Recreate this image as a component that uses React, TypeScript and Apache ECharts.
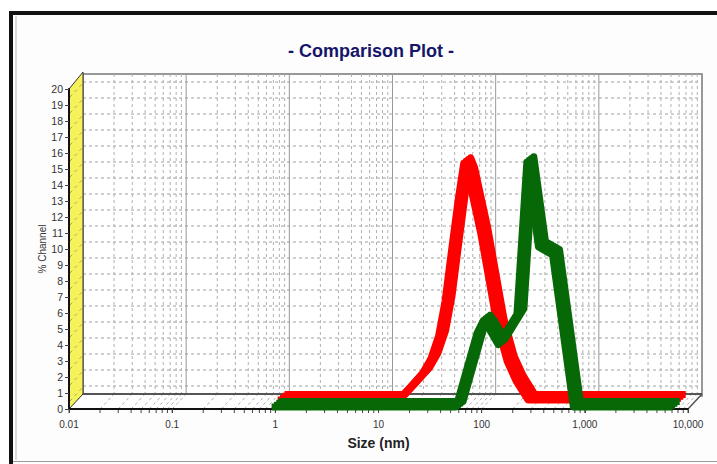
import React, { useEffect, useRef } from "react";
import * as echarts from "echarts";

// ---- data ----
const SIZES_RED = [0.88, 13, 18, 22.5, 27, 32, 37, 43, 49.5, 56, 61, 82, 118, 148, 180, 235, 6800];
const PCT_RED = [0, 0, 1.0, 1.7, 2.6, 4.0, 6.2, 9.5, 12.5, 14.8, 14.2, 10.4, 4.7, 2.4, 1.2, 0, 0];
const SIZES_GREEN = [0.88, 54, 86, 99, 110, 138, 210, 262, 340, 465, 740, 6800];
const PCT_GREEN = [0, 0, 4.6, 5.4, 5.0, 3.9, 5.8, 15.3, 10.0, 9.5, 0, 0];
const X_TICK_VALUES = [0.01, 0.1, 1, 10, 100, 1000, 10000];
const X_TICK_LABELS = ["0.01", "0.1", "1", "10", "100", "1,000", "10,000"];
const Y_MAX = 20;

// ---- layout ----
const FX0 = 69; // front x of 0.01
const FW = 619; // front axis width
const FY0 = 409; // front y of 0
const FH = 320; // front height (0..20)
const DDX = 14; // depth offset
const DDY = -15;

const fx = (v: number) => FX0 + ((Math.log10(v) + 2) / 6) * FW;

function buildGraphics() {
  const els: any[] = [];
  // outer panel
  els.push({ type: "rect", z: -21, shape: { x: 11, y: 13, width: 706, height: 448 }, style: { fill: "#fdfdfe" } });
  els.push({ type: "line", z: -20, shape: { x1: 9, y1: 13, x2: 717, y2: 13 }, style: { stroke: "#111", lineWidth: 4 } });
  els.push({ type: "line", z: -20, shape: { x1: 11, y1: 11, x2: 11, y2: 464 }, style: { stroke: "#111", lineWidth: 4 } });
  els.push({ type: "line", z: -20, shape: { x1: 13, y1: 461.5, x2: 717, y2: 461.5 }, style: { stroke: "#999", lineWidth: 1 } });
  els.push({ type: "line", z: -19, shape: { x1: 16, y1: 16, x2: 16, y2: 460 }, style: { stroke: "#bbb", lineWidth: 1 } });
  // back wall
  els.push({ type: "rect", z: -10, shape: { x: FX0 + DDX, y: FY0 - FH + DDY, width: FW, height: FH + 2 }, style: { fill: "#ffffff", stroke: "#777", lineWidth: 1.5 } });
  // back wall horizontal dashed
  for (let k = 0; k < 20; k++) {
    const y = FY0 + DDY - 8 - 16 * k;
    els.push({ type: "line", z: -9, shape: { x1: FX0 + DDX, y1: y, x2: FX0 + DDX + FW, y2: y }, style: { stroke: "#a0a0a0", lineWidth: 1, lineDash: [3, 3] } });
  }
  // back wall verticals
  const minors: number[] = [];
  for (let e = -2; e < 4; e++) {
    for (let m = 2; m <= 9; m++) minors.push(m * Math.pow(10, e));
  }
  minors.forEach((v) => {
    const x = fx(v) + DDX;
    els.push({ type: "line", z: -9, shape: { x1: x, y1: FY0 - FH + DDY, x2: x, y2: FY0 + DDY }, style: { stroke: "#b0b0b0", lineWidth: 1, lineDash: [3, 3] } });
  });
  X_TICK_VALUES.slice(1, -1).forEach((v) => {
    const x = fx(v) + DDX;
    els.push({ type: "line", z: -8, shape: { x1: x, y1: FY0 - FH + DDY, x2: x, y2: FY0 + DDY }, style: { stroke: "#999", lineWidth: 1 } });
  });
  // floor
  els.push({ type: "polygon", z: -7, shape: { points: [[FX0, FY0], [FX0 + FW, FY0], [FX0 + FW + DDX, FY0 + DDY], [FX0 + DDX, FY0 + DDY]] }, style: { fill: "#ffffff" } });
  [...minors, ...X_TICK_VALUES].forEach((v) => {
    const x = fx(v);
    els.push({ type: "line", z: -6, shape: { x1: x, y1: FY0, x2: x + DDX, y2: FY0 + DDY }, style: { stroke: "#aaa", lineWidth: 1, lineDash: [3, 3] } });
    els.push({ type: "line", z: -6, shape: { x1: x, y1: FY0, x2: x, y2: FY0 + 4 }, style: { stroke: "#444", lineWidth: 1 } });
  });
  els.push({ type: "line", z: -5, shape: { x1: FX0 + DDX, y1: FY0 + DDY, x2: FX0 + DDX + FW, y2: FY0 + DDY }, style: { stroke: "#555", lineWidth: 2 } });
  els.push({ type: "line", z: -5, shape: { x1: FX0 + FW, y1: FY0, x2: FX0 + FW + DDX, y2: FY0 + DDY }, style: { stroke: "#555", lineWidth: 1.5 } });
  // left wall
  els.push({ type: "polygon", z: -4, shape: { points: [[FX0, FY0], [FX0, FY0 - FH], [FX0 + DDX, FY0 - FH + DDY - 2], [FX0 + DDX, FY0 + DDY]] }, style: { fill: "#f6f25c", stroke: "#333", lineWidth: 1 } });
  for (let k = 0; k < 20; k++) {
    const y = FY0 - 8 - 16 * k;
    els.push({ type: "line", z: -3, shape: { x1: FX0 + 1, y1: y, x2: FX0 + DDX - 1, y2: y + DDY + 2 }, style: { stroke: "#a8a45a", lineWidth: 1, lineDash: [3, 4] } });
  }
  // title
  els.push({ type: "text", z: 10, x: 371, y: 51, style: { text: "- Comparison Plot -", font: "bold 18px 'Liberation Sans', Arial, sans-serif", fill: "#15156a", align: "center", verticalAlign: "middle" } });
  return els;
}

function buildRibbon(sizes: number[], vals: number[], color: string, from: [number, number], to: [number, number], z: number, startIdx: number) {
  const grids: any[] = [];
  const xAxes: any[] = [];
  const yAxes: any[] = [];
  const series: any[] = [];
  const N = 4;
  const data = sizes.map((s, i) => [s, vals[i]]);
  for (let t = 0; t < N; t++) {
    const f = t / (N - 1);
    const ox = from[0] + (to[0] - from[0]) * f;
    const oy = from[1] + (to[1] - from[1]) * f;
    const idx = startIdx + t;
    grids.push({ left: FX0 + ox, top: FY0 - FH + oy, width: FW, height: FH });
    xAxes.push({ type: "log", logBase: 10, min: 0.01, max: 10000, gridIndex: idx, show: false });
    yAxes.push({ type: "value", min: 0, max: Y_MAX, gridIndex: idx, show: false });
    series.push({
      type: "line",
      xAxisIndex: idx,
      yAxisIndex: idx,
      data,
      showSymbol: false,
      symbol: "none",
      clip: false,
      z,
      lineStyle: { color, width: 7, join: "round", cap: "butt" },
      silent: true,
    });
  }
  return { grids, xAxes, yAxes, series };
}

export default function App() {
  const ref = useRef<HTMLDivElement>(null);
  useEffect(() => {
    if (!ref.current) return;
    const chart = echarts.init(ref.current, undefined, { renderer: "svg" });
    const front = {
      grid: { left: FX0, top: FY0 - FH, width: FW, height: FH },
      xAxis: {
        type: "log",
        logBase: 10,
        min: 0.01,
        max: 10000,
        gridIndex: 0,
        name: "Size (nm)",
        nameLocation: "middle",
        nameGap: 27,
        nameMoveOverlap: false,
        nameTextStyle: { fontFamily: "'Liberation Sans', Arial, sans-serif", fontWeight: "bold", fontSize: 14, color: "#222" },
        axisLine: { show: true, lineStyle: { color: "#111", width: 2 } },
        axisTick: { show: true, length: 4, lineStyle: { color: "#444" } },
        splitLine: { show: false },
        axisLabel: {
          fontFamily: "'Liberation Sans', Arial, sans-serif",
          fontSize: 10,
          color: "#333",
          margin: 10,
          formatter: (v: number) => {
            const i = X_TICK_VALUES.findIndex((t) => Math.abs(Math.log10(t) - Math.log10(v)) < 1e-6);
            return i >= 0 ? X_TICK_LABELS[i] : "";
          },
        },
      },
      yAxis: {
        type: "value",
        min: 0,
        max: Y_MAX,
        interval: 1,
        gridIndex: 0,
        name: "% Channel",
        nameLocation: "middle",
        nameGap: 22,
        nameMoveOverlap: false,
        nameTextStyle: { fontFamily: "'Liberation Sans', Arial, sans-serif", fontSize: 10, color: "#333" },
        axisLine: { show: true, lineStyle: { color: "#111", width: 2 } },
        axisTick: { show: true, length: 4, lineStyle: { color: "#444" } },
        splitLine: { show: false },
        axisLabel: { fontFamily: "'Liberation Sans', Arial, sans-serif", fontSize: 10.5, color: "#333", margin: 6 },
      },
    };
    const red = buildRibbon(SIZES_RED, PCT_RED, "#fe0000", [8, -9], [15, -14.5], 3, 1);
    const green = buildRibbon(SIZES_GREEN, PCT_GREEN, "#066806", [2, -2], [9, -7.5], 4, 5);
    chart.setOption({
      animation: false,
      backgroundColor: "#ffffff",
      grid: [front.grid, ...red.grids, ...green.grids],
      xAxis: [front.xAxis, ...red.xAxes, ...green.xAxes],
      yAxis: [front.yAxis, ...red.yAxes, ...green.yAxes],
      series: [...red.series, ...green.series],
      graphic: { elements: buildGraphics() },
    });
    return () => chart.dispose();
  }, []);
  return <div ref={ref} style={{ position: "fixed", left: 0, top: 0, width: 717, height: 464 }} />;
}
